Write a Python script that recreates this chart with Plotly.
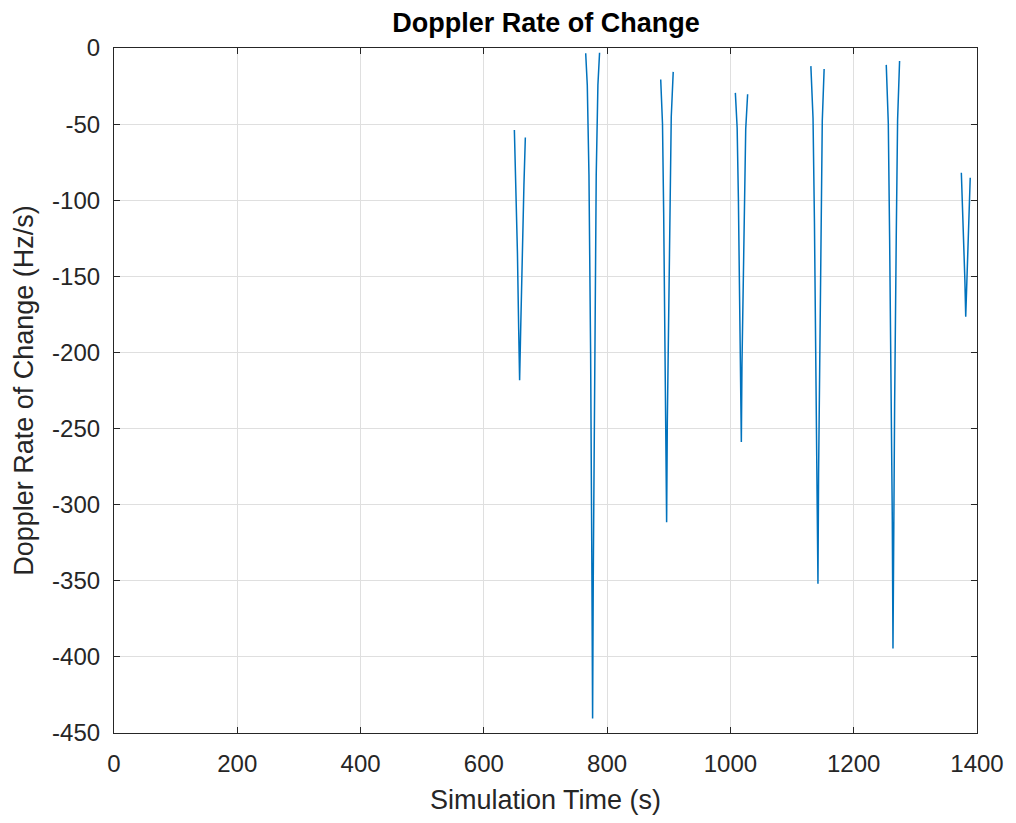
import plotly.graph_objects as go

# Visible passes: simulation time (s) and Doppler rate (Hz/s)
pass1_t = [649.5, 652.0, 654.5, 656.5, 658.0, 660.0, 662.5, 665.0, 667.3]
pass1_v = [-53.9, -90.0, -135.0, -185.0, -218.2, -180.0, -130.0, -90.0, -58.8]

pass2_t = [765.2, 767.8, 770.5, 773.2, 775.3, 776.4, 777.5, 779.6, 782.3, 785.0, 787.7]
pass2_v = [-3.4, -24.5, -83.1, -200.3, -346.7, -440.4, -346.7, -200.3, -83.1, -24.5, -3.1]

pass3_t = [886.9, 889.8, 891.7, 894.1, 895.5, 896.5, 897.6, 899.2, 901.9, 904.0, 907.2]
pass3_v = [-20.7, -49.8, -108.0, -189.4, -247.6, -311.6, -246.5, -187.3, -104.5, -45.3, -15.7]

pass4_t = [1008.0, 1010.9, 1012.9, 1015.3, 1016.7, 1017.7, 1018.7, 1020.2, 1022.8, 1024.8, 1027.9]
pass4_v = [-29.5, -52.4, -98.3, -162.5, -208.4, -258.8, -208.6, -162.9, -98.9, -53.2, -30.4]

pass5_t = [1130.5, 1134.0, 1136.3, 1139.1, 1140.9, 1142.0, 1143.0, 1144.5, 1147.0, 1149.0, 1152.0]
pass5_v = [-11.9, -46.2, -114.8, -210.9, -279.5, -352.0, -279.9, -211.7, -116.2, -47.9, -13.8]

pass6_t = [1252.8, 1256.1, 1258.3, 1261.0, 1262.6, 1263.7, 1264.8, 1266.4, 1269.0, 1271.2, 1274.4]
pass6_v = [-11.1, -49.4, -126.1, -233.5, -310.2, -394.5, -309.6, -232.4, -124.3, -47.1, -8.5]

pass7_t = [1374.6, 1376.5, 1378.5, 1380.3, 1381.7, 1383.5, 1385.5, 1387.3, 1389.0]
pass7_v = [-82.0, -102.0, -127.0, -152.0, -176.6, -152.0, -125.0, -103.0, -85.3]

x_tickvals = [0, 200, 400, 600, 800, 1000, 1200, 1400]
x_ticktext = ["0", "200", "400", "600", "800", "1000", "1200", "1400"]
y_tickvals = [0, -50, -100, -150, -200, -250, -300, -350, -400, -450]
y_ticktext = ["0", "-50", "-100", "-150", "-200", "-250", "-300", "-350", "-400", "-450"]

passes_t = [pass1_t, pass2_t, pass3_t, pass4_t, pass5_t, pass6_t, pass7_t]
passes_v = [pass1_v, pass2_v, pass3_v, pass4_v, pass5_v, pass6_v, pass7_v]

t_all, v_all = [], []
for pt, pv in zip(passes_t, passes_v):
    if t_all:
        t_all.append(None)
        v_all.append(None)
    t_all.extend(pt)
    v_all.extend(pv)

fig = go.Figure()
fig.add_trace(go.Scatter(
    x=t_all, y=v_all, mode="lines", connectgaps=False,
    line=dict(color="#0072BD", width=1.5), showlegend=False,
))

font_family = "Liberation Sans, Arial, Helvetica, sans-serif"
axis_common = dict(
    showline=True, linecolor="#262626", linewidth=1.2, mirror="allticks",
    ticks="inside", ticklen=6, tickcolor="#262626", tickwidth=1.2,
    showgrid=True, gridcolor="#dfdfdf", gridwidth=1,
    zeroline=False, tickfont=dict(family=font_family, size=24, color="#262626"),
)

fig.update_layout(
    width=1016, height=823,
    margin=dict(l=114, r=36, t=48, b=90),
    paper_bgcolor="white", plot_bgcolor="white",
    title=dict(text="<b>Doppler Rate of Change</b>", x=0.5375, xanchor="center",
               y=0.973, yanchor="middle",
               font=dict(family=font_family, size=27, color="#000000")),
    xaxis=dict(range=[0, 1400], tickmode="array", tickvals=x_tickvals, ticktext=x_ticktext,
               title=dict(text="Simulation Time (s)", standoff=14,
                          font=dict(family=font_family, size=27, color="#262626")),
               ticklabelstandoff=9, **axis_common),
    yaxis=dict(range=[-450, 0], tickmode="array", tickvals=y_tickvals, ticktext=y_ticktext,
               title=dict(text="Doppler Rate of Change (Hz/s)", standoff=10,
                          font=dict(family=font_family, size=27, color="#262626")),
               ticklabelstandoff=8, **axis_common),
)

fig.write_html("out.html")
